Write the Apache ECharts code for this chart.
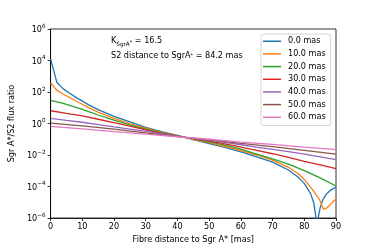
<!DOCTYPE html>
<html><head><meta charset="utf-8">
<script src="https://cdn.jsdelivr.net/npm/echarts@6/dist/echarts.min.js"></script>
<style>html,body{margin:0;padding:0;background:#fff}#c{width:374px;height:249px}</style>
</head><body><div id="c"></div>
<script>
// Legend labels (fibre offsets) and colours
const seriesNames = ['0.0 mas', '10.0 mas', '20.0 mas', '30.0 mas', '40.0 mas', '50.0 mas', '60.0 mas'];
const colors = ['#1f77b4', '#ff7f0e', '#2ca02c', '#d62728', '#9467bd', '#8c564b', '#e377c2'];

// Axis ticks
const xTicks = [0, 10, 20, 30, 40, 50, 60, 70, 80, 90];
const yTickExponents = [-6, -4, -2, 0, 2, 4, 6];

// Curves: x = fibre distance [mas], values given as log10(flux ratio)
const x_0mas  = [0, 2, 4, 6, 8, 10, 12, 15, 20, 25, 30, 35, 40, 45, 50, 55, 60, 65, 70, 75, 78, 80, 82, 83, 84, 85, 86, 87, 88, 89, 90];
const log_0mas = [4.1, 2.6, 2.2, 1.92, 1.66, 1.42, 1.18, 0.88, 0.45, 0.1, -0.25, -0.52, -0.76, -1.02, -1.27, -1.52, -1.8, -2.12, -2.45, -2.95, -3.4, -3.8, -4.45, -5.05, -6.4, -5.35, -4.78, -4.47, -4.28, -4.15, -4.05];

const x_10mas  = [0, 2, 4, 6, 8, 10, 12, 15, 20, 25, 30, 35, 40, 45, 50, 55, 60, 65, 70, 75, 78, 80, 82, 83, 84, 85, 86, 87, 88, 89, 90];
const log_10mas = [2.57, 2.1, 1.86, 1.65, 1.43, 1.22, 1.01, 0.72, 0.33, 0.0, -0.3, -0.57, -0.77, -1.0, -1.22, -1.46, -1.72, -2.0, -2.32, -2.78, -3.17, -3.55, -4.05, -4.31, -4.6, -4.9, -5.45, -5.38, -5.2, -4.98, -4.77];

const x_20mas  = [0, 2, 4, 6, 8, 10, 12, 15, 20, 25, 30, 35, 40, 45, 50, 55, 60, 65, 70, 75, 80, 85, 90];
const log_20mas = [1.47, 1.38, 1.27, 1.15, 1.03, 0.9, 0.76, 0.54, 0.22, -0.08, -0.35, -0.6, -0.78, -0.98, -1.17, -1.38, -1.63, -1.94, -2.25, -2.58, -2.99, -3.45, -3.97];

const x_30mas  = [0, 5, 10, 15, 20, 25, 30, 35, 40, 45, 50, 55, 60, 65, 70, 75, 80, 85, 90];
const log_30mas = [0.81, 0.64, 0.48, 0.27, 0.05, -0.17, -0.4, -0.62, -0.8, -0.96, -1.12, -1.3, -1.5, -1.7, -1.92, -2.15, -2.4, -2.63, -2.87];

const x_40mas  = [0, 5, 10, 15, 20, 25, 30, 35, 40, 45, 50, 55, 60, 65, 70, 75, 80, 85, 90];
const log_40mas = [0.33, 0.2, 0.08, -0.07, -0.22, -0.36, -0.5, -0.66, -0.82, -0.94, -1.07, -1.2, -1.35, -1.5, -1.64, -1.79, -1.95, -2.12, -2.3];

const x_50mas  = [0, 10, 20, 30, 40, 50, 60, 70, 80, 90];
const log_50mas = [0.03, -0.15, -0.36, -0.6, -0.83, -1.04, -1.26, -1.47, -1.7, -1.94];

const x_60mas  = [0, 10, 20, 30, 40, 50, 60, 70, 80, 90];
const log_60mas = [-0.18, -0.34, -0.51, -0.68, -0.84, -1.0, -1.18, -1.33, -1.5, -1.66];

const curveX = [x_0mas, x_10mas, x_20mas, x_30mas, x_40mas, x_50mas, x_60mas];
const curveLog = [log_0mas, log_10mas, log_20mas, log_30mas, log_40mas, log_50mas, log_60mas];

const FONT = 'DejaVu Sans';
const chart = echarts.init(document.getElementById('c'), null, {renderer: 'canvas'});

const series = seriesNames.map((name, k) => ({
  name: name,
  type: 'line',
  showSymbol: false,
  symbol: 'none',
  clip: true,
  smooth: false,
  lineStyle: {color: colors[k], width: 1.3},
  itemStyle: {color: colors[k]},
  data: curveX[k].map((x, i) => [x, Math.pow(10, curveLog[k][i])]),
  z: 2
}));

const option = {
  animation: false,
  backgroundColor: '#fff',
  textStyle: {fontFamily: FONT},
  grid: {left: 47, right: 38, top: 29, bottom: 31, show: true, borderColor: '#000', borderWidth: 0.8, backgroundColor: 'transparent'},
  xAxis: {
    type: 'value', min: xTicks[0], max: xTicks[xTicks.length - 1], interval: 10,
    name: 'Fibre distance to Sgr A* [mas]', nameLocation: 'middle', nameGap: 16,
    nameTextStyle: {fontSize: 8.1, color: '#000', fontFamily: FONT},
    axisLine: {show: true, lineStyle: {color: '#000', width: 0.8}},
    axisTick: {show: true, inside: false, length: 3, lineStyle: {color: '#000', width: 0.8}},
    axisLabel: {fontSize: 8.1, color: '#000', margin: 5, fontFamily: FONT},
    splitLine: {show: false}
  },
  yAxis: {
    type: 'log', logBase: 10,
    min: Math.pow(10, yTickExponents[0]), max: Math.pow(10, yTickExponents[yTickExponents.length - 1]),
    interval: 2,
    name: 'Sgr A*/S2 flux ratio', nameLocation: 'middle', nameGap: 31, nameRotate: 90,
    nameTextStyle: {fontSize: 8.1, color: '#000', fontFamily: FONT},
    axisLine: {show: true, lineStyle: {color: '#000', width: 0.8}},
    axisTick: {show: true, inside: false, length: 3, lineStyle: {color: '#000', width: 0.8}},
    axisLabel: {
      margin: 5, color: '#000', fontFamily: FONT,
      formatter: function (v) {
        const e = Math.round(Math.log10(v));
        return '{b|10}{s|' + (e < 0 ? '\u2212' + (-e) : e) + '}';
      },
      rich: {
        b: {fontSize: 8.1, lineHeight: 11, padding: [2, 0, 0, 0], fontFamily: FONT, color: '#000'},
        s: {fontSize: 5.7, lineHeight: 10, verticalAlign: 'top', fontFamily: FONT, color: '#000'}
      }
    },
    splitLine: {show: false}
  },
  legend: {
    data: seriesNames, orient: 'vertical', left: 261, top: 34,
    icon: 'rect', itemWidth: 18, itemHeight: 1.5, itemGap: 3.17,
    padding: [2.5, 5, 3.5, 2],
    borderColor: '#cccccc', borderWidth: 0.8, borderRadius: 2.5,
    backgroundColor: 'rgba(255,255,255,0.8)',
    textStyle: {fontSize: 8.1, fontFamily: FONT, color: '#000', lineHeight: 9.5, padding: [0, 0, 0, 2]}
  },
  graphic: [
    {
      type: 'text', left: 111, top: 37, z: 10,
      style: {
        text: '{k|K}{sub|SgrA}{ast|*}{k| = 16.5}',
        rich: {
          k: {fontSize: 8.1, lineHeight: 10, verticalAlign: 'top', fontFamily: FONT, fill: '#000'},
          sub: {fontSize: 5.7, lineHeight: 6, padding: [5, 0, 0, 0], verticalAlign: 'top', fontFamily: FONT, fill: '#000'},
          ast: {fontSize: 5, lineHeight: 5, padding: [3, 0, 0, 0], verticalAlign: 'top', fontFamily: FONT, fill: '#000'}
        }
      }
    },
    {
      type: 'text', left: 111, top: 52, z: 10,
      style: {
        text: '{t|S2 distance to SgrA}{ast|*}{t| = 84.2 mas}',
        rich: {
          t: {fontSize: 8.1, lineHeight: 10, verticalAlign: 'top', fontFamily: FONT, fill: '#000'},
          ast: {fontSize: 5, lineHeight: 5, padding: [1, 0, 0, 0], verticalAlign: 'top', fontFamily: FONT, fill: '#000'}
        }
      }
    }
  ],
  series: series
};
chart.setOption(option);
</script>
</body></html>
